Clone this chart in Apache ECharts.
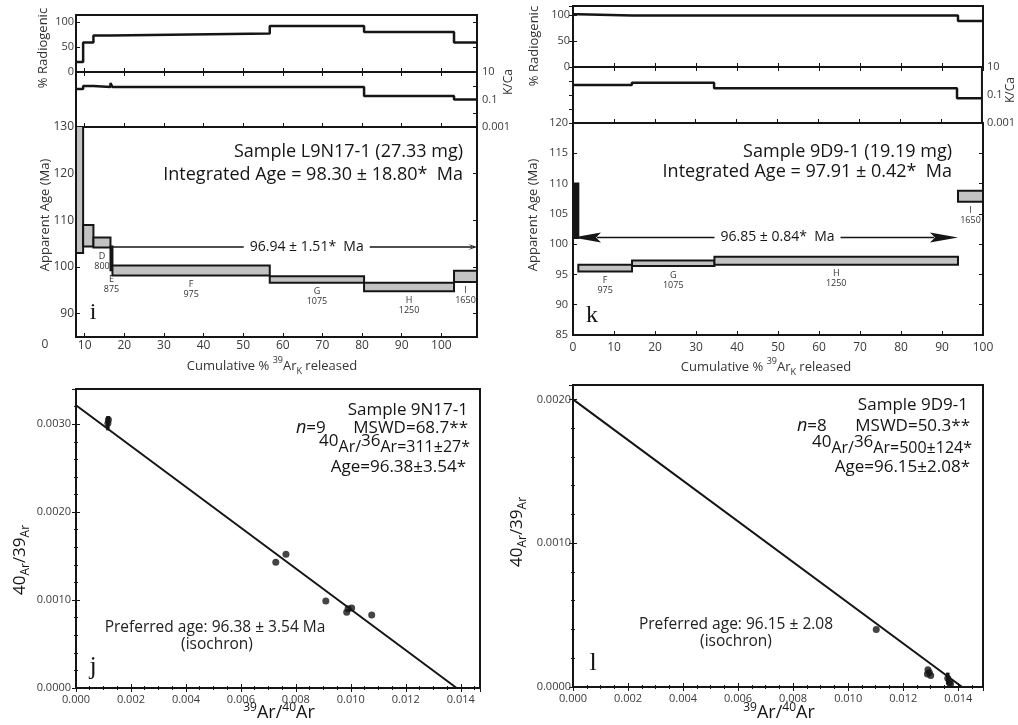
<!DOCTYPE html>
<html>
<head>
<meta charset="utf-8">
<script src="https://cdn.jsdelivr.net/npm/echarts@6/dist/echarts.min.js"></script>
<style>
  html, body { margin: 0; background: #fff; }
  #chart { width: 1018px; height: 725px; }
</style>
</head>
<body>
<div id="chart"></div>
<script>
// ---- panel i: sample L9N17-1, step heating ----
const iBounds = [7.8, 9.6, 12.2, 16.5, 17.0, 56.7, 80.5, 103.2, 109];
const iRadiogenic = [20, 59, 73, 77, 77, 92, 80, 59];
const iKCa = [0.58, 0.96, 0.81, 1.58, 0.81, 0.81, 0.18, 0.10];
const iAgeLow = [103.0, 104.4, 104.2, 99.3, 98.2, 96.6, 94.8, 96.8];
const iAgeHigh = [131, 109.0, 106.3, 104.4, 100.3, 98.0, 96.6, 99.2];
const iStepLabels = ['', '', 'D\n800', 'E\n875', 'F\n975', 'G\n1075', 'H\n1250', 'I\n1650'];
const iPlateau = [17.0, 109, 104.3];
const iXTicks = [10, 20, 30, 40, 50, 60, 70, 80, 90, 100];
const iAgeTicks = [90, 100, 110, 120, 130];

// ---- panel k: sample 9D9-1, step heating ----
const kBounds = [0, 1.3, 14.4, 34.5, 93.9, 100];
const kRadiogenic = [101, 99, 99, 99, 88];
const kKCa = [0.52, 0.52, 0.76, 0.30, 0.058];
const kAgeLow = [101.0, 95.5, 96.4, 96.6, 107.0];
const kAgeHigh = [110.0, 96.6, 97.3, 97.9, 108.8];
const kStepLabels = ['', 'F\n975', 'G\n1075', 'H\n1250', 'I\n1650'];
const kPlateau = [0, 93.9, 101.1];

// ---- panel j: isochron 9N17-1 ----
const jX = [0.00116, 0.00118, 0.00727, 0.00764, 0.00909, 0.00985, 0.00990, 0.01003, 0.01076];
const jY = [0.00301, 0.00305, 0.00143, 0.00152, 0.00099, 0.00086, 0.00090, 0.00091, 0.00083];
const jErr = [0.00008, 0.00004, 0, 0, 0, 0, 0, 0, 0];
const jLine = [[0, 0.003215], [0.01385, 0]];

// ---- panel l: isochron 9D9-1 ----
const lX = [0.01102, 0.01290, 0.01295, 0.01300, 0.01288, 0.01362, 0.01368, 0.01372];
const lY = [0.00040, 0.00012, 0.00010, 0.00008, 0.00009, 0.00006, 0.00003, 0.00002];
const lErr = [0, 0, 0, 0, 0, 0.00004, 0, 0];
const lLine = [[0, 0.0020], [0.01414, 0]];

const FONT = '"Open Sans", "DejaVu Sans", sans-serif';
const SERIF = '"Liberation Serif", "DejaVu Serif", serif';
const INK = '#151515';
const GRAY = '#c2c2c2';

const chart = echarts.init(document.getElementById('chart'));

function stepPoints(bounds, vals) {
  const pts = vals.map((v, i) => [bounds[i], v]);
  pts.push([bounds[bounds.length - 1], vals[vals.length - 1]]);
  return pts;
}
function stepBoxes(bounds, lows, highs) {
  return lows.map((lo, i) => [bounds[i], bounds[i + 1], lo, highs[i]]);
}
function withErr(xs, ys, es) {
  return xs.map((x, i) => [x, ys[i] - es[i], ys[i] + es[i]]).filter(d => d[2] > d[1]);
}

function renderStep(labels, fill, firstFill) {
  return function (params, api) {
    const a = api.coord([api.value(0), api.value(3)]);
    const b = api.coord([api.value(1), api.value(2)]);
    const kids = [{
      type: 'rect',
      shape: { x: a[0], y: a[1], width: b[0] - a[0], height: b[1] - a[1] },
      style: { fill: params.dataIndex === 0 ? firstFill : fill, stroke: INK, lineWidth: 2 }
    }];
    const lab = labels[params.dataIndex];
    if (lab) {
      kids.push({
        type: 'text', x: (a[0] + b[0]) / 2, y: b[1] + 4,
        style: { text: lab, fontSize: 9, lineHeight: 10, fontFamily: FONT, fill: '#333',
          align: 'center', verticalAlign: 'top', textAlign: 'center', textVerticalAlign: 'top' }
      });
    }
    return { type: 'group', children: kids };
  };
}

function renderPlateau(text, both, len, half) {
  return function (params, api) {
    const a = api.coord([api.value(0), api.value(2)]);
    const b = api.coord([api.value(1), api.value(2)]);
    const y = a[1];
    const kids = [{
      type: 'line',
      shape: { x1: a[0] + (both ? len - 4 : 0), y1: y, x2: b[0] - len + 4, y2: y },
      style: { stroke: INK, lineWidth: 1.5 }
    }, {
      type: 'polygon',
      shape: { points: [[b[0], y], [b[0] - len, y - half], [b[0] - len + 5, y], [b[0] - len, y + half]] },
      style: { fill: INK }
    }];
    if (both) {
      kids.push({
        type: 'polygon',
        shape: { points: [[a[0], y], [a[0] + len, y - half], [a[0] + len - 5, y], [a[0] + len, y + half]] },
        style: { fill: INK }
      });
    }
    kids.push({
      type: 'text', x: (a[0] + b[0]) / 2 + 12, y: y,
      style: { text: text, fontSize: 14, fontFamily: FONT, fill: INK, backgroundColor: '#fff', padding: [1, 6],
        align: 'center', verticalAlign: 'middle', textAlign: 'center', textVerticalAlign: 'middle' }
    });
    return { type: 'group', children: kids };
  };
}

function renderErr(params, api) {
  const a = api.coord([api.value(0), api.value(1)]);
  const b = api.coord([api.value(0), api.value(2)]);
  return { type: 'line', shape: { x1: a[0], y1: a[1], x2: b[0], y2: b[1] }, style: { stroke: INK, lineWidth: 3.5 } };
}

function txt(x, y, text, o) {
  o = o || {};
  return {
    type: 'text', x: x, y: y, rotation: o.rot || 0, silent: true,
    style: {
      text: text, fill: o.color || INK, fontSize: o.size || 17, fontFamily: o.family || FONT,
      fontStyle: o.italic ? 'italic' : 'normal',
      align: o.align || 'left', verticalAlign: o.valign || 'middle',
      textAlign: o.align || 'left', textVerticalAlign: o.valign || 'middle',
      rich: o.rich
    }
  };
}

const TICK = { show: true, inside: true, length: 4, lineStyle: { color: INK, width: 1 } };
const MINOR = { show: true, length: 2, lineStyle: { color: INK } };
const LAB = { color: '#3a3a3a', fontSize: 12, fontFamily: FONT };
const NOSPLIT = { show: false };

function hiddenX(grid, min, max, extra) {
  return Object.assign({ gridIndex: grid, type: 'value', min: min, max: max,
    axisLine: { show: false }, splitLine: NOSPLIT, axisLabel: { show: false } }, extra);
}
function hiddenY(grid, min, max, extra) {
  return Object.assign({ gridIndex: grid, type: 'value', min: min, max: max, position: 'right',
    axisLine: { show: false }, splitLine: NOSPLIT, axisLabel: { show: false } }, extra);
}
const logFmt = v => {
  const e = Math.round(Math.log10(v));
  if (e % 2 === 0) return '';
  return e >= 0 ? String(Math.pow(10, e)) : Math.pow(10, e).toFixed(-e);
};
function kcaAxis(grid) {
  return { gridIndex: grid, type: 'log', logBase: 10, min: 0.001, max: 10, position: 'right',
    axisLine: { show: false }, splitLine: NOSPLIT, axisTick: TICK, minorTick: { show: false },
    axisLabel: Object.assign({}, LAB, { fontSize: 11, margin: 5, formatter: logFmt }) };
}

const supRich = {
  u: { fontSize: 17, fontFamily: FONT, padding: [0, 0, 6, 0], verticalAlign: 'bottom' },
  b: { fontSize: 16, fontFamily: FONT, verticalAlign: 'bottom' }
};
const xNameRich = {
  s: { fontSize: 12, fontFamily: FONT, padding: [0, 0, 8, 0], verticalAlign: 'bottom' },
  t: { fontSize: 18, fontFamily: FONT, verticalAlign: 'bottom' }
};
const yNameRich = {
  t: { fontSize: 17, fontFamily: FONT, verticalAlign: 'top' },
  l: { fontSize: 12, fontFamily: FONT, padding: [8, 0, 0, 0], verticalAlign: 'top' }
};
const cumRich = {
  t: { fontSize: 13, fontFamily: FONT, padding: [4, 0, 0, 0], verticalAlign: 'top' },
  s: { fontSize: 9, fontFamily: FONT, verticalAlign: 'top' },
  k: { fontSize: 9, fontFamily: FONT, padding: [11, 0, 0, 0], verticalAlign: 'top' }
};
const italRich = { i: { fontStyle: 'italic', fontSize: 18, fontFamily: FONT } };

const grids = [
  { left: 76, top: 15, width: 401, height: 57 },
  { left: 76, top: 72, width: 401, height: 55 },
  { left: 76, top: 127, width: 401, height: 210 },
  { left: 573, top: 6, width: 410, height: 61 },
  { left: 573, top: 67, width: 410, height: 56 },
  { left: 573, top: 123, width: 410, height: 212 },
  { left: 76, top: 389, width: 404, height: 299 },
  { left: 573, top: 385, width: 410, height: 302 }
].map(g => Object.assign(g, { show: true, borderColor: INK, borderWidth: 2, containLabel: false }));

const option = {
  animation: false,
  backgroundColor: '#fff',
  grid: grids,
  xAxis: [
    hiddenX(0, 7.8, 109, { axisTick: Object.assign({ customValues: iXTicks }, TICK) }),
    hiddenX(1, 7.8, 109, { axisTick: Object.assign({ customValues: iXTicks }, TICK) }),
    { gridIndex: 2, type: 'value', min: 7.8, max: 109, axisLine: { show: false }, splitLine: NOSPLIT,
      axisTick: Object.assign({ customValues: iXTicks }, TICK),
      axisLabel: Object.assign({}, LAB, { margin: 3, customValues: iXTicks }) },
    hiddenX(3, 0, 100, { interval: 10, axisTick: TICK }),
    hiddenX(4, 0, 100, { interval: 10, axisTick: TICK }),
    { gridIndex: 5, type: 'value', min: 0, max: 100, interval: 10, axisLine: { show: false }, splitLine: NOSPLIT,
      axisTick: TICK, axisLabel: Object.assign({}, LAB, { margin: 7 }) },
    { gridIndex: 6, type: 'value', min: 0, max: 0.0147, interval: 0.002, axisLine: { show: false }, splitLine: NOSPLIT,
      axisTick: TICK, minorTick: Object.assign({ splitNumber: 4 }, MINOR),
      axisLabel: Object.assign({}, LAB, { fontSize: 11, margin: 6, showMaxLabel: false, formatter: v => v.toFixed(3) }) },
    { gridIndex: 7, type: 'value', min: 0, max: 0.0149, interval: 0.002, axisLine: { show: false }, splitLine: NOSPLIT,
      axisTick: TICK, minorTick: Object.assign({ splitNumber: 4 }, MINOR),
      axisLabel: Object.assign({}, LAB, { fontSize: 11, margin: 6, showMaxLabel: false, formatter: v => v.toFixed(3) }) },
    // tick-only axes along the top edges
    hiddenX(0, 7.8, 109, { position: 'top', axisTick: Object.assign({ customValues: iXTicks }, TICK) }),
    hiddenX(3, 0, 100, { position: 'top', interval: 10, axisTick: TICK }),
    hiddenX(6, 0, 0.0147, { position: 'top', interval: 0.002, axisTick: TICK, minorTick: Object.assign({ splitNumber: 4 }, MINOR) }),
    hiddenX(7, 0, 0.0149, { position: 'top', interval: 0.002, axisTick: TICK, minorTick: Object.assign({ splitNumber: 4 }, MINOR) })
  ],
  yAxis: [
    { gridIndex: 0, type: 'value', min: 0, max: 114, interval: 50, axisLine: { show: false }, splitLine: NOSPLIT,
      axisTick: TICK, axisLabel: Object.assign({}, LAB, { fontSize: 11, margin: 2, showMaxLabel: false }) },
    kcaAxis(1),
    { gridIndex: 2, type: 'value', min: 85, max: 130, axisLine: { show: false }, splitLine: NOSPLIT,
      axisTick: Object.assign({ customValues: iAgeTicks }, TICK),
      axisLabel: Object.assign({}, LAB, { margin: 2, customValues: iAgeTicks }) },
    { gridIndex: 3, type: 'value', min: 0, max: 117, interval: 50, axisLine: { show: false }, splitLine: NOSPLIT,
      axisTick: TICK, axisLabel: Object.assign({}, LAB, { fontSize: 11, margin: 3, showMaxLabel: false }) },
    kcaAxis(4),
    { gridIndex: 5, type: 'value', min: 85, max: 120, interval: 5, axisLine: { show: false }, splitLine: NOSPLIT,
      axisTick: TICK, axisLabel: Object.assign({}, LAB, { fontSize: 11, margin: 5 }) },
    { gridIndex: 6, type: 'value', min: 0, max: 0.0034, interval: 0.001, axisLine: { show: false }, splitLine: NOSPLIT,
      axisTick: TICK, minorTick: Object.assign({ splitNumber: 5 }, MINOR),
      axisLabel: Object.assign({}, LAB, { fontSize: 11, margin: 5, showMaxLabel: false, formatter: v => v.toFixed(4) }) },
    { gridIndex: 7, type: 'value', min: 0, max: 0.0021, interval: 0.001, axisLine: { show: false }, splitLine: NOSPLIT,
      axisTick: TICK, minorTick: Object.assign({ splitNumber: 5 }, MINOR),
      axisLabel: Object.assign({}, LAB, { fontSize: 11, margin: 2, showMaxLabel: false, formatter: v => v.toFixed(4) }) },
    // tick-only axes along the right edges
    hiddenY(0, 0, 114, { interval: 50, axisTick: TICK }),
    hiddenY(2, 85, 130, { axisTick: Object.assign({ customValues: iAgeTicks }, TICK) }),
    hiddenY(3, 0, 117, { interval: 50, axisTick: TICK }),
    hiddenY(5, 85, 120, { interval: 5, axisTick: TICK }),
    hiddenY(6, 0, 0.0034, { interval: 0.001, axisTick: TICK, minorTick: Object.assign({ splitNumber: 5 }, MINOR) }),
    hiddenY(7, 0, 0.0021, { interval: 0.001, axisTick: TICK, minorTick: Object.assign({ splitNumber: 5 }, MINOR) })
  ],
  series: [
    // panel i
    { type: 'line', xAxisIndex: 0, yAxisIndex: 0, step: 'end', symbol: 'none',
      data: stepPoints(iBounds, iRadiogenic), lineStyle: { color: INK, width: 2.5 } },
    { type: 'line', xAxisIndex: 1, yAxisIndex: 1, step: 'end', symbol: 'none',
      data: stepPoints(iBounds, iKCa), lineStyle: { color: INK, width: 2.5 } },
    { type: 'custom', xAxisIndex: 2, yAxisIndex: 2, clip: true,
      renderItem: renderStep(iStepLabels, GRAY, GRAY), data: stepBoxes(iBounds, iAgeLow, iAgeHigh) },
    { type: 'custom', xAxisIndex: 2, yAxisIndex: 2,
      renderItem: renderPlateau('96.94 ± 1.51*  Ma', false, 9, 3), data: [iPlateau] },
    // panel k
    { type: 'line', xAxisIndex: 3, yAxisIndex: 3, step: 'end', symbol: 'none',
      data: stepPoints(kBounds, kRadiogenic), lineStyle: { color: INK, width: 2.5 } },
    { type: 'line', xAxisIndex: 4, yAxisIndex: 4, step: 'end', symbol: 'none',
      data: stepPoints(kBounds, kKCa), lineStyle: { color: INK, width: 2.5 } },
    { type: 'custom', xAxisIndex: 5, yAxisIndex: 5, clip: true,
      renderItem: renderStep(kStepLabels, GRAY, INK), data: stepBoxes(kBounds, kAgeLow, kAgeHigh) },
    { type: 'custom', xAxisIndex: 5, yAxisIndex: 5,
      renderItem: renderPlateau('96.85 ± 0.84*  Ma', true, 28, 5), data: [kPlateau] },
    // panel j
    { type: 'line', xAxisIndex: 6, yAxisIndex: 6, symbol: 'none', data: jLine,
      lineStyle: { color: INK, width: 2 } },
    { type: 'custom', xAxisIndex: 6, yAxisIndex: 6, renderItem: renderErr, data: withErr(jX, jY, jErr) },
    { type: 'scatter', xAxisIndex: 6, yAxisIndex: 6, symbolSize: 7, itemStyle: { color: INK },
      data: jX.map((x, i) => [x, jY[i]]) },
    // panel l
    { type: 'line', xAxisIndex: 7, yAxisIndex: 7, symbol: 'none', data: lLine,
      lineStyle: { color: INK, width: 2 } },
    { type: 'custom', xAxisIndex: 7, yAxisIndex: 7, renderItem: renderErr, data: withErr(lX, lY, lErr) },
    { type: 'scatter', xAxisIndex: 7, yAxisIndex: 7, symbolSize: 7, itemStyle: { color: INK },
      data: lX.map((x, i) => [x, lY[i]]) }
  ],
  graphic: [
    // panel i
    txt(463, 152, 'Sample L9N17-1 (27.33 mg)', { align: 'right', size: 18 }),
    txt(463, 175, 'Integrated Age = 98.30 ± 18.80*  Ma', { align: 'right', size: 18 }),
    txt(93, 313, 'i', { family: SERIF, size: 24, align: 'center' }),
    txt(43, 48, '% Radiogenic', { rot: Math.PI / 2, size: 13, align: 'center', color: '#333' }),
    txt(45, 215, 'Apparent Age (Ma)', { rot: Math.PI / 2, size: 13, align: 'center', color: '#333' }),
    txt(509, 82, 'K/Ca', { rot: Math.PI / 2, size: 12, align: 'center', color: '#333' }),
    txt(45, 345, '0', { size: 12, align: 'center', color: '#3a3a3a' }),
    txt(272, 366, '{t|Cumulative % }{s|39}{t|Ar}{k|K}{t| released}', { align: 'center', rich: cumRich, color: '#333' }),
    // panel k
    txt(952, 152, 'Sample 9D9-1 (19.19 mg)', { align: 'right', size: 18 }),
    txt(952, 172, 'Integrated Age = 97.91 ± 0.42*  Ma', { align: 'right', size: 18 }),
    txt(592, 316, 'k', { family: SERIF, size: 24, align: 'center' }),
    txt(534, 46, '% Radiogenic', { rot: Math.PI / 2, size: 13, align: 'center', color: '#333' }),
    txt(533, 215, 'Apparent Age (Ma)', { rot: Math.PI / 2, size: 13, align: 'center', color: '#333' }),
    txt(1011, 90, 'K/Ca', { rot: Math.PI / 2, size: 12, align: 'center', color: '#333' }),
    txt(766, 367, '{t|Cumulative % }{s|39}{t|Ar}{k|K}{t| released}', { align: 'center', rich: cumRich, color: '#333' }),
    // panel j
    txt(468, 410, 'Sample 9N17-1', { align: 'right', size: 17 }),
    txt(296, 428, '{i|n}=9', { size: 17, rich: italRich }),
    txt(468, 428, 'MSWD=68.7**', { align: 'right', size: 17 }),
    txt(470, 444, '{u|40}{b|Ar/}{u|36}{b|Ar=311±27*}', { align: 'right', rich: supRich }),
    txt(466, 467, 'Age=96.38±3.54*', { align: 'right', size: 17 }),
    txt(215, 628, 'Preferred age: 96.38 ± 3.54 Ma', { align: 'center', size: 15.5, color: '#222' }),
    txt(217, 645, '(isochron)', { align: 'center', size: 15.5, color: '#222' }),
    txt(93, 667, 'j', { family: SERIF, size: 26, align: 'center' }),
    txt(22, 560, '{t|40}{l|Ar}{t|/39}{l|Ar}', { rot: Math.PI / 2, align: 'center', rich: yNameRich }),
    txt(279, 712, '{s|39}{t|Ar/}{s|40}{t|Ar}', { align: 'center', rich: xNameRich }),
    // panel l
    txt(968, 405, 'Sample 9D9-1', { align: 'right', size: 17 }),
    txt(797, 426, '{i|n}=8', { size: 17, rich: italRich }),
    txt(970, 426, 'MSWD=50.3**', { align: 'right', size: 17 }),
    txt(972, 445, '{u|40}{b|Ar/}{u|36}{b|Ar=500±124*}', { align: 'right', rich: supRich }),
    txt(970, 467, 'Age=96.15±2.08*', { align: 'right', size: 17 }),
    txt(736, 625, 'Preferred age: 96.15 ± 2.08', { align: 'center', size: 15.5, color: '#222' }),
    txt(736, 642, '(isochron)', { align: 'center', size: 15.5, color: '#222' }),
    txt(593, 663, 'l', { family: SERIF, size: 26, align: 'center' }),
    txt(519, 532, '{t|40}{l|Ar}{t|/39}{l|Ar}', { rot: Math.PI / 2, align: 'center', rich: yNameRich }),
    txt(779, 712, '{s|39}{t|Ar/}{s|40}{t|Ar}', { align: 'center', rich: xNameRich })
  ]
};

chart.setOption(option);
</script>
</body>
</html>
